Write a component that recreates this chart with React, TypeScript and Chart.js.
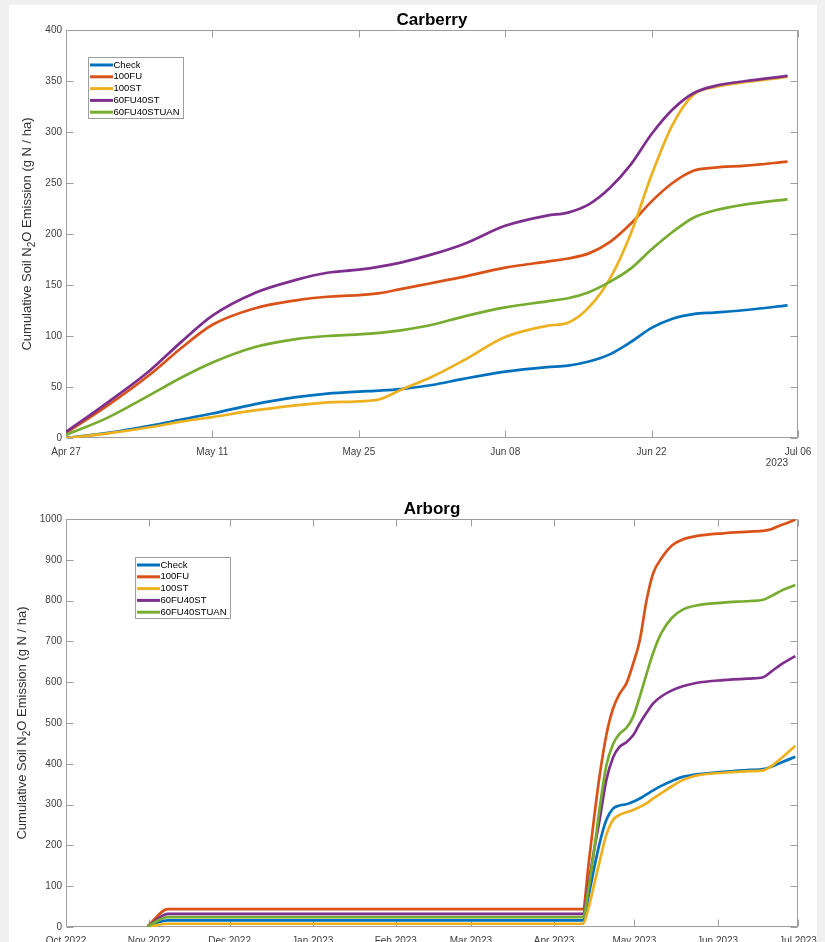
import React, { useEffect, useRef } from "react";
import { Chart, registerables } from "chart.js";
Chart.register(...registerables);
Chart.defaults.font.family = "'Liberation Sans', Arial, Helvetica, sans-serif";

const SERIES_NAMES = ["Check", "100FU", "100ST", "60FU40ST", "60FU40STUAN"];
const SERIES_COLORS = ["#0072BD", "#D95319", "#EDB120", "#7E2F8E", "#77AC30"];

// ---- Carberry (days since Apr 27, 2023) ----
const carberryDays = [0, 4, 8, 11, 14, 18, 22, 25, 28, 30, 32, 35, 38, 42, 46, 48, 50, 52, 54, 56, 58, 60, 62, 65, 69];
const carberryCheck = [0, 5, 12, 18, 24, 33, 40, 43.5, 45.5, 46.5, 48, 52, 58, 65, 69.5, 71, 75, 82, 94, 108, 117, 121.5, 123, 125.5, 130];
const carberry100FU = [5, 32, 62, 88, 111, 127, 135, 138.5, 140, 142, 146, 152, 158, 167, 173, 176, 181, 192, 210, 232, 250, 262, 265, 267, 271];
const carberry100ST = [0, 4.5, 10.5, 16, 20.5, 27, 32, 35, 36, 38, 47, 60, 76, 99, 110, 113, 128, 156, 200, 258, 307, 336.5, 344, 349, 354];
const carberry60FU40ST = [6, 35, 66, 94, 120, 142, 155, 162, 165, 168, 172, 180, 190, 208, 218, 221, 229, 245, 268, 298, 322, 338, 345, 350, 355];
const carberry60FU40STUAN = [3, 20, 42, 59, 74, 89, 97, 100, 101.5, 103, 105.5, 111, 119, 128, 134, 137, 143, 153, 166, 185, 202, 216, 223, 229, 234];
const carberryTickDays = [0, 14, 28, 42, 56, 70];
const carberryTickLabels = ["Apr 27", "May 11", "May 25", "Jun 08", "Jun 22", "Jul 06"];

// ---- Arborg (days since Oct 1, 2022) ----
const arborgDays = [30.5, 38, 192.7, 195, 197, 199, 201.5, 204, 206.5, 209, 211.5, 214, 216.5, 219, 222, 226, 230, 235, 245, 255, 260, 263, 267, 272];
const arborgCheck = [2, 16, 16, 80, 145, 205, 262, 290, 298, 301, 307, 315, 325, 335, 346, 358, 368, 374, 380, 385, 387, 393, 404, 417];
const arborg100FU = [2, 44, 44, 160, 270, 370, 470, 535, 572, 597, 645, 703, 800, 867, 903, 935, 950, 958, 965, 969, 971, 975, 986, 998];
const arborg100ST = [0, 8, 8, 50, 105, 160, 225, 262, 275, 281, 287, 294, 303, 315, 328, 345, 360, 371, 378, 382, 384, 394, 415, 444];
const arborg60FU40ST = [2, 32, 32, 110, 190, 262, 360, 415, 442, 453, 470, 499, 525, 548, 565, 580, 590, 598, 605, 609, 612, 626, 645, 664];
const arborg60FU40STUAN = [2, 24, 24, 100, 190, 290, 395, 448, 474, 488, 515, 565, 620, 672, 720, 758, 778, 788, 795, 799, 802, 811, 825, 838];
const arborgTickDays = [0, 31, 61, 92, 123, 151, 182, 212, 243, 273];
const arborgTickLabels = ["Oct 2022", "Nov 2022", "Dec 2022", "Jan 2023", "Feb 2023", "Mar 2023", "Apr 2023", "May 2023", "Jun 2023", "Jul 2023"];

const FONT = "'Liberation Sans', Arial, Helvetica, sans-serif";

const matlabPlugin = {
  id: "matlab",
  beforeDatasetsDraw(chart: any) {
    const { ctx, chartArea: a, scales } = chart;
    ctx.save();
    ctx.strokeStyle = "#9e9e9e";
    ctx.lineWidth = 1;
    ctx.beginPath();
    const L = Math.round(a.left) + 0.5, R = Math.round(a.right) - 0.5;
    const T = Math.round(a.top) + 0.5, B = Math.round(a.bottom) - 0.5;
    scales.x.ticks.forEach((t: any) => {
      const px = Math.round(scales.x.getPixelForValue(t.value)) + 0.5;
      ctx.moveTo(px, B); ctx.lineTo(px, B - 7);
      ctx.moveTo(px, T); ctx.lineTo(px, T + 7);
    });
    scales.y.ticks.forEach((t: any) => {
      const py = Math.round(scales.y.getPixelForValue(t.value)) + 0.5;
      ctx.moveTo(L, py); ctx.lineTo(L + 7, py);
      ctx.moveTo(R, py); ctx.lineTo(R - 7, py);
    });
    ctx.stroke();
    ctx.strokeRect(L, T, R - L, B - T);
    ctx.restore();
  },
  afterDraw(chart: any, _args: any, opts: any) {
    const { ctx, chartArea: a } = chart;
    ctx.save();
    // Title
    ctx.fillStyle = "#000";
    ctx.font = `bold 17px ${FONT}`;
    ctx.textAlign = "center";
    ctx.textBaseline = "alphabetic";
    ctx.fillText(opts.title, (a.left + a.right) / 2, a.top - 5);

    // Y title with subscript
    const cy = (a.top + a.bottom) / 2;
    ctx.translate(opts.yTitleX, cy);
    ctx.rotate(-Math.PI / 2);
    ctx.fillStyle = "#333";
    const p1 = "Cumulative Soil N", p2 = "O Emission (g N / ha)", sub = "2";
    ctx.font = `13px ${FONT}`;
    const w1 = ctx.measureText(p1).width, w2 = ctx.measureText(p2).width;
    ctx.font = `10px ${FONT}`;
    const ws = ctx.measureText(sub).width;
    const x0 = -(w1 + ws + w2) / 2;
    ctx.textAlign = "left";
    ctx.textBaseline = "middle";
    ctx.font = `13px ${FONT}`;
    ctx.fillText(p1, x0, 0);
    ctx.font = `10px ${FONT}`;
    ctx.fillText(sub, x0 + w1, 5);
    ctx.font = `13px ${FONT}`;
    ctx.fillText(p2, x0 + w1 + ws, 0);
    ctx.setTransform(1, 0, 0, 1, 0, 0);

    // secondary date label
    if (opts.secondary) {
      ctx.fillStyle = "#404040";
      ctx.font = `10px ${FONT}`;
      ctx.textAlign = "right";
      ctx.textBaseline = "middle";
      ctx.fillText(opts.secondary, a.right - 10, a.bottom + 25);
    }

    // Legend
    const lx = a.left + opts.legendX, ly = a.top + opts.legendY;
    const lw = 95, rowH = 11.8, lh = 61;
    ctx.fillStyle = "#fff";
    ctx.fillRect(lx, ly, lw, lh);
    ctx.strokeStyle = "#9e9e9e";
    ctx.lineWidth = 1;
    ctx.strokeRect(Math.round(lx) + 0.5, Math.round(ly) + 0.5, lw, lh);
    ctx.font = `9.5px ${FONT}`;
    ctx.textAlign = "left";
    ctx.textBaseline = "middle";
    chart.data.datasets.forEach((ds: any, i: number) => {
      const yy = ly + 8 + i * rowH;
      ctx.strokeStyle = ds.borderColor;
      ctx.lineWidth = 3;
      ctx.beginPath();
      ctx.moveTo(lx + 2, yy);
      ctx.lineTo(lx + 25, yy);
      ctx.stroke();
      ctx.fillStyle = "#000";
      ctx.fillText(ds.label, lx + 25.5, yy);
    });
    ctx.restore();
  },
};

type PanelProps = {
  height: number;
  title: string;
  days: number[];
  series: number[][];
  xMax: number;
  tickDays: number[];
  tickLabels: string[];
  yMax: number;
  yStep: number;
  padTop: number;
  xAxisHeight: number;
  yTitleX: number;
  legendX: number;
  legendY: number;
  secondary?: string;
};

function Panel(p: PanelProps) {
  const ref = useRef<HTMLCanvasElement | null>(null);
  useEffect(() => {
    if (!ref.current) return;
    const chart = new Chart(ref.current, {
      type: "line",
      data: {
        datasets: p.series.map((vals, i) => ({
          label: SERIES_NAMES[i],
          data: p.days.map((d, j) => ({ x: d, y: vals[j] })),
          borderColor: SERIES_COLORS[i],
          backgroundColor: SERIES_COLORS[i],
          borderWidth: 2.7,
          pointRadius: 0,
          cubicInterpolationMode: "monotone",
          fill: false,
          order: SERIES_NAMES.length - i,
        })),
      },
      options: {
        responsive: false,
        animation: false,
        devicePixelRatio: 1,
        layout: { padding: { top: p.padTop, right: 27, left: 0, bottom: 0 } },
        plugins: {
          legend: { display: false },
          tooltip: { enabled: false },
          title: { display: false },
          matlab: {
            title: p.title,
            yTitleX: p.yTitleX,
            legendX: p.legendX,
            legendY: p.legendY,
            secondary: p.secondary,
          },
        } as any,
        scales: {
          x: {
            type: "linear",
            min: 0,
            max: p.xMax,
            grid: { display: false, drawTicks: false },
            border: { display: false },
            ticks: {
              padding: 8,
              autoSkip: false,
              maxRotation: 0,
              color: "#404040",
              font: { size: 10 },
              callback: (v: any) => {
                const i = p.tickDays.indexOf(Number(v));
                return i >= 0 ? p.tickLabels[i] : "";
              },
            },
            afterBuildTicks: (s: any) => {
              s.ticks = p.tickDays.map((v) => ({ value: v }));
            },
            afterFit: (s: any) => {
              s.height = p.xAxisHeight;
            },
          },
          y: {
            type: "linear",
            min: 0,
            max: p.yMax,
            grid: { display: false, drawTicks: false },
            border: { display: false },
            ticks: {
              stepSize: p.yStep,
              padding: 4,
              color: "#404040",
              font: { size: 10 },
              callback: (v: any) => String(v),
            },
            afterFit: (s: any) => {
              s.width = 66;
            },
          },
        },
      } as any,
      plugins: [matlabPlugin as any],
    });
    return () => chart.destroy();
  }, []);
  return <canvas ref={ref} width={825} height={p.height} style={{ display: "block", width: 825, height: p.height }} />;
}

export default function App() {
  return (
    <div style={{ position: "absolute", left: 0, top: 0, width: 825, height: 942, background: "#f0f0f0", overflow: "hidden" }}>
      <div style={{ position: "absolute", left: 9, top: 5, width: 808, height: 937, background: "#fff" }} />
      <div style={{ position: "absolute", left: 0, top: 0 }}>
        <Panel
          height={475}
          title="Carberry"
          days={carberryDays}
          series={[carberryCheck, carberry100FU, carberry100ST, carberry60FU40ST, carberry60FU40STUAN]}
          xMax={70}
          tickDays={carberryTickDays}
          tickLabels={carberryTickLabels}
          yMax={400}
          yStep={50}
          padTop={30}
          xAxisHeight={37}
          yTitleX={27}
          legendX={22}
          legendY={27}
          secondary="2023"
        />
      </div>
      <div style={{ position: "absolute", left: 0, top: 475 }}>
        <Panel
          height={467}
          title="Arborg"
          days={arborgDays}
          series={[arborgCheck, arborg100FU, arborg100ST, arborg60FU40ST, arborg60FU40STUAN]}
          xMax={273}
          tickDays={arborgTickDays}
          tickLabels={arborgTickLabels}
          yMax={1000}
          yStep={100}
          padTop={44}
          xAxisHeight={15}
          yTitleX={22}
          legendX={69}
          legendY={38}
        />
      </div>
    </div>
  );
}
